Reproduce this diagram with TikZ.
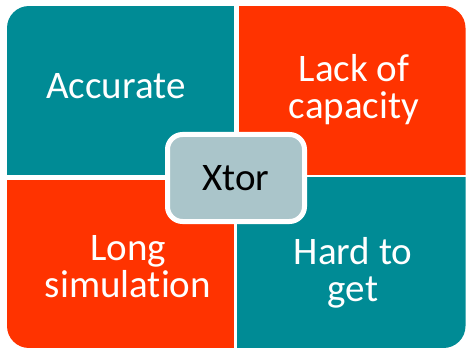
\documentclass[tikz,border=0pt]{standalone}
\usepackage{fontspec}
\setmainfont{Carlito}[Ligatures=NoCommon]
\definecolor{quadteal}{RGB}{0,139,149}
\definecolor{quadred}{RGB}{255,51,0}
\definecolor{hubgrey}{RGB}{170,197,202}
\begin{document}
\begin{tikzpicture}[x=1pt, y=-1pt, every node/.append style={inner sep=0pt},
    label/.style={text=white, align=center, font=\fontsize{39}{37}\selectfont},
    hub/.style={fill=hubgrey, draw=white, line width=5pt, rounded corners=15pt,
      minimum width=137pt, minimum height=87pt, font=\fontsize{39}{39}\selectfont}]
	\useasboundingbox (0,0) rectangle (466,350);
	
	% four quarters, only the outer corners round
	\begin{scope}
		\clip[rounded corners=22pt] (7,6) rectangle (465.5,348);
		\fill[quadteal] (7,6) rectangle (233.5,175);
		\fill[quadred] (239,6) rectangle (465.5,175);
		\fill[quadred] (7,180) rectangle (234,348);
		\fill[quadteal] (237,177.5) rectangle (465.5,348);
	\end{scope}
	
	\node[label] (acc) at (116,86) {Accurate};
	\node[label] (lack) at (354,90) {Lack of\\capacity};
	\node[label] (long) at (128,267) {Long\\simulation};
	\node[label] (hard) at (353,273) {Hard to\\get};
	
	\node[hub] (xtor) at (236,178) {Xtor};
\end{tikzpicture}
\end{document}
